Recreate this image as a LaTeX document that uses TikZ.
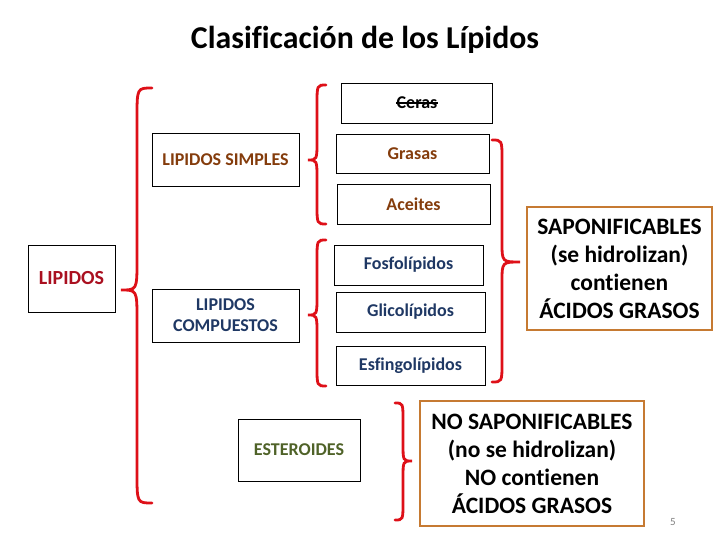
\documentclass[tikz,border=0pt]{standalone}
\usepackage{fontspec}
\setmainfont{Carlito}[Ligatures=NoCommon]

\definecolor{bracered}{RGB}{222,16,24}
\definecolor{simplebrown}{RGB}{132,60,12}
\definecolor{lipidred}{RGB}{170,16,32}
\definecolor{compblue}{RGB}{31,56,100}
\definecolor{steroidgreen}{RGB}{79,98,40}
\definecolor{boxorange}{RGB}{198,122,50}

% curly brace: spine x, end x, tip x, top y, tip y, bottom y, radius
\newcommand{\curlybrace}[7]{%
  \draw[bracered, line width=2.8pt, line cap=round]
    (#2,#4) .. controls (#1,#4) .. (#1,#4+#7) -- (#1,#5-#7)
    .. controls (#1,#5) .. (#3,#5)
    .. controls (#1,#5) .. (#1,#5+#7) -- (#1,#6-#7)
    .. controls (#1,#6) .. (#2,#6);}

\tikzset{
  item/.style={draw=black, line width=0.8pt, font=\bfseries\fontsize{18}{21}\selectfont,
    align=center, inner sep=2pt},
  bigbox/.style={draw=boxorange, line width=2.6pt, font=\bfseries\fontsize{23.5}{28}\selectfont,
    align=center, inner sep=2pt},
}

\begin{document}
\begin{tikzpicture}[x=1pt, y=-1pt]

    % Page
    \useasboundingbox (0,0) rectangle (720,540);

    % Title
    \node[font=\bfseries\fontsize{31.8}{36}\selectfont] (title) at (365,40) {Clasificación de los Lípidos};

    % Main boxes
    \node[item, text=lipidred, font=\bfseries\fontsize{20}{24}\selectfont,
          minimum width=87pt, minimum height=67pt] (lipidos) at (71.5,278.5) {LIPIDOS};
    \node[item, text=simplebrown, minimum width=147pt, minimum height=53pt] (simples) at (225.5,159.5) {LIPIDOS SIMPLES};
    \node[item, text=compblue, minimum width=147pt, minimum height=53pt] (compuestos) at (225.5,315.5) {LIPIDOS\\COMPUESTOS};
    \node[item, text=steroidgreen, minimum width=122pt, minimum height=62pt] (esteroides) at (299,450) {ESTEROIDES};

    % Simple lipids
    \node[item, minimum width=151pt, minimum height=40pt] (ceras) at (417,103) {};
    \node[font=\bfseries\fontsize{18}{21}\selectfont, inner sep=0pt] (cerastxt) at (ceras) {Ceras};
    \draw[line width=1.3pt] (cerastxt.west) -- (cerastxt.east);
    \node[item, text=simplebrown, minimum width=153pt, minimum height=39pt] (grasas) at (412.5,153.5) {Grasas};
    \node[item, text=simplebrown, minimum width=153pt, minimum height=40pt] (aceites) at (413.5,204) {Aceites};

    % Compound lipids
    \node[item, text=compblue, minimum width=149pt, minimum height=40pt] (fosfo) at (408.5,265) {Fosfolípidos};
    \node[item, text=compblue, minimum width=149pt, minimum height=40pt] (glico) at (410.5,312) {Glicolípidos};
    \node[item, text=compblue, minimum width=149pt, minimum height=39pt] (esfingo) at (410.5,365.5) {Esfingolípidos};

    % Saponifiable / not
    \node[bigbox, minimum width=185pt, minimum height=123pt] (sapon) at (619.5,268.5)
        {SAPONIFICABLES\\(se hidrolizan)\\contienen\\ÁCIDOS GRASOS};
    \node[bigbox, minimum width=224pt, minimum height=125pt] (nosapon) at (532,463.5)
        {NO SAPONIFICABLES\\(no se hidrolizan)\\NO contienen\\ÁCIDOS GRASOS};

    % Braces
    \curlybrace{137}{152}{121}{88}{290}{503}{30}
    \curlybrace{317}{326}{308}{85}{160}{224}{20}
    \curlybrace{317}{326}{308}{240}{315}{386}{20}
    \curlybrace{502}{492}{520}{140}{262}{382}{20}
    \curlybrace{403}{395}{412}{403}{461}{520}{18}

    % Slide number
    \node[text=gray, font=\fontsize{11}{13}\selectfont] (num) at (673,522) {5};

\end{tikzpicture}
\end{document}
